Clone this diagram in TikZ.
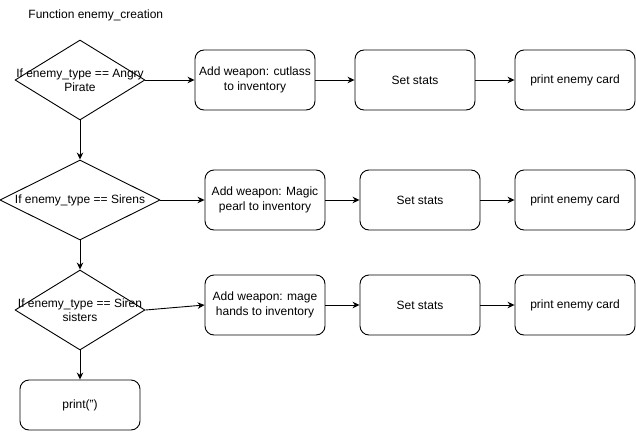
\documentclass[tikz,border=0pt]{standalone}
\usepackage{fontspec}
\setmainfont{Liberation Sans}
\usetikzlibrary{shapes.geometric,arrows.meta}

\begin{document}
\begin{tikzpicture}[x=1pt,y=-1pt,>={Stealth[length=7pt,width=6.5pt]}, line width=0.9pt,
	font=\fontsize{12}{14.5}\selectfont, line join=round,
	stepbox/.style={draw,rounded corners=9pt,minimum width=120pt,minimum height=60pt,align=center,inner sep=0pt},
	cond/.style={draw,diamond,inner sep=0pt,minimum width=130pt,minimum height=80pt}]
	\useasboundingbox (0,0) rectangle (636,431);
	\node[anchor=west,inner sep=0pt] (title) at (28,15) {Function enemy\_creation};
	% the three tests
	\node[cond,label={[align=center]center:If enemy\_type == Angry\\Pirate}] (if1) at (80,80) {};
	\node[cond,minimum width=160pt,label={center:If enemy\_type == Sirens}] (if2) at (80,200) {};
	\node[cond,label={[align=center]center:If enemy\_type == Siren\\sisters}] (if3) at (80,310) {};
	\node[stepbox,minimum height=50pt] (out) at (80,405) {print('')};
	% weapons
	\node[stepbox] (add1) at (255,80) {Add weapon: cutlass\\to inventory};
	\node[stepbox] (add2) at (265,200) {Add weapon: Magic\\pearl to inventory};
	\node[stepbox] (add3) at (265,305) {Add weapon: mage\\hands to inventory};
	\foreach \i/\xs/\y in {1/415/80,2/420/200,3/420/305}
	{\node[stepbox] (stats\i) at (\xs,\y) {Set stats};
		\node[stepbox] (card\i) at (575,\y) {print enemy card};
		\draw[->] (if\i.east)--(add\i.west);
		\draw[->] (add\i)--(stats\i);
		\draw[->] (stats\i)--(card\i);}
	\draw[->] (if1.south)--(if2.north);
	\draw[->] (if2.south)--(if3.north);
	\draw[->] (if3.south)--(out.north);
\end{tikzpicture}
\end{document}
